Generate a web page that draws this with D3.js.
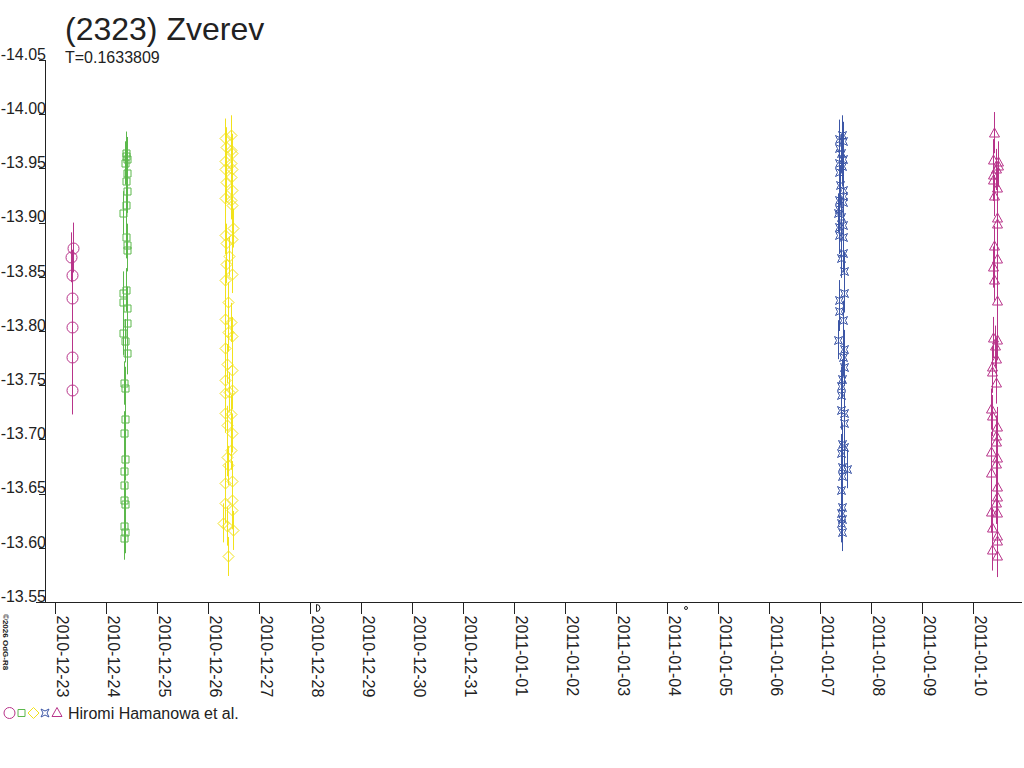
<!DOCTYPE html>
<html lang="en">
<head>
<meta charset="utf-8">
<title>(2323) Zverev</title>
<script src="https://cdn.jsdelivr.net/npm/d3@7"></script>
<style>
body { margin: 0; background: #fff; }
svg text { font-family: "Liberation Sans", Arial, sans-serif; fill: #222; }
.axis line, .axis path { stroke: #222; shape-rendering: crispEdges; }
</style>
</head>
<body>
<div id="chart"></div>
<script>
// session dates, day fractions (UT) and magnitudes
var sessionDates = ["2010-12-23", "2010-12-24", "2010-12-26", "2011-01-07", "2011-01-10"];
var sessionErr = [0.023, 0.020, 0.018, 0.018, 0.019];
var observers = "Hiromi Hamanowa et al.";
var period = "T=0.1633809";
var yTicks = [-14.05, -14.00, -13.95, -13.90, -13.85, -13.80, -13.75, -13.70, -13.65, -13.60, -13.55];

var frac1 = [0.367, 0.327, 0.347, 0.347, 0.347, 0.347, 0.347];
var mag1 = [-13.877, -13.868, -13.852, -13.830, -13.804, -13.776, -13.746];

var frac2 = [0.406, 0.406, 0.420, 0.388, 0.420, 0.400, 0.425, 0.400, 0.341, 0.400, 0.420, 0.420,
  0.400, 0.341, 0.341, 0.425, 0.425, 0.353, 0.392, 0.431, 0.361, 0.380, 0.380, 0.361, 0.380,
  0.361, 0.361, 0.361, 0.380, 0.373, 0.388, 0.373];
var mag2 = [-13.964, -13.961, -13.959, -13.955, -13.946, -13.938, -13.929, -13.916, -13.909, -13.887, -13.879, -13.875,
  -13.838, -13.835, -13.827, -13.821, -13.807, -13.798, -13.791, -13.780, -13.752, -13.747, -13.719, -13.706, -13.682,
  -13.671, -13.658, -13.644, -13.640, -13.620, -13.615, -13.609];

var frac3 = [0.465, 0.347, 0.367, 0.465, 0.490, 0.347, 0.465, 0.347, 0.490, 0.465, 0.367, 0.478, 0.347,
  0.465, 0.478, 0.498, 0.347, 0.478, 0.367, 0.431, 0.367, 0.490, 0.347, 0.400, 0.347, 0.459, 0.412,
  0.490, 0.347, 0.380, 0.490, 0.347, 0.490, 0.347, 0.431, 0.347, 0.459, 0.392, 0.490, 0.459, 0.380,
  0.412, 0.490, 0.347, 0.347, 0.490, 0.490, 0.314, 0.380, 0.510, 0.412];
var mag3 = [-13.981, -13.978, -13.970, -13.967, -13.964, -13.957, -13.955, -13.949, -13.949, -13.942, -13.937, -13.930, -13.923,
  -13.921, -13.916, -13.895, -13.889, -13.885, -13.881, -13.869, -13.862, -13.853, -13.847, -13.827, -13.811, -13.808, -13.799,
  -13.795, -13.784, -13.770, -13.764, -13.755, -13.746, -13.743, -13.744, -13.724, -13.723, -13.713, -13.706, -13.690, -13.684,
  -13.676, -13.662, -13.660, -13.641, -13.644, -13.635, -13.623, -13.620, -13.616, -13.592];

var frac4 = [0.451, 0.392, 0.471, 0.392, 0.420, 0.471, 0.392, 0.439, 0.392, 0.406, 0.471, 0.471, 0.380,
  0.471, 0.392, 0.373, 0.420, 0.471, 0.380, 0.392, 0.471, 0.471, 0.420, 0.490, 0.490, 0.380, 0.380,
  0.471, 0.373, 0.490, 0.471, 0.490, 0.451, 0.420, 0.420, 0.420, 0.490, 0.490, 0.451, 0.490, 0.420,
  0.451, 0.537, 0.451, 0.420, 0.451, 0.420, 0.451, 0.420, 0.451];
var mag4 = [-13.981, -13.977, -13.975, -13.969, -13.964, -13.959, -13.955, -13.952, -13.947, -13.935, -13.930, -13.925, -13.921,
  -13.919, -13.913, -13.909, -13.905, -13.898, -13.896, -13.889, -13.887, -13.872, -13.867, -13.855, -13.835, -13.829, -13.818,
  -13.810, -13.792, -13.783, -13.776, -13.767, -13.756, -13.749, -13.741, -13.727, -13.724, -13.715, -13.696, -13.693, -13.687,
  -13.675, -13.673, -13.666, -13.653, -13.638, -13.632, -13.627, -13.623, -13.615];

var frac5 = [0.431, 0.412, 0.498, 0.510, 0.465, 0.412, 0.412, 0.490, 0.431, 0.490, 0.490, 0.431, 0.490,
  0.412, 0.431, 0.490, 0.490, 0.412, 0.445, 0.459, 0.380, 0.380, 0.459, 0.367, 0.392, 0.490, 0.459,
  0.459, 0.367, 0.478, 0.459, 0.367, 0.478, 0.478, 0.459, 0.367, 0.478, 0.380, 0.478, 0.478, 0.380, 0.478];
var mag5 = [-13.983, -13.958, -13.956, -13.952, -13.949, -13.944, -13.939, -13.932, -13.925, -13.904, -13.899, -13.878, -13.866,
  -13.859, -13.847, -13.828, -13.792, -13.794, -13.786, -13.774, -13.767, -13.762, -13.752, -13.728, -13.722, -13.711, -13.703,
  -13.698, -13.688, -13.683, -13.677, -13.669, -13.656, -13.647, -13.641, -13.633, -13.632, -13.618, -13.611, -13.606, -13.598, -13.592];

// moon phases shown under the time axis
var moonTimes = ["2010-12-28T04:18:00Z", "2011-01-04T09:03:00Z"];
var moonPhases = ["lastQuarter", "new"];

var fracs = [frac1, frac2, frac3, frac4, frac5];
var mags = [mag1, mag2, mag3, mag4, mag5];

/* look of each session */
var colors = ["#b8348a", "#5cb84c", "#f2e21c", "#3c56a6", "#b8348a"];

var symCircle = { draw: function(c) { c.moveTo(5.5, 0); c.arc(0, 0, 5.5, 0, 2 * Math.PI); } };
var symSquare = { draw: function(c) { c.rect(-3.5, -3.5, 7, 7); } };
var symDiamond = { draw: function(c) { c.moveTo(0, -5.5); c.lineTo(5.5, 0); c.lineTo(0, 5.5); c.lineTo(-5.5, 0); c.closePath(); } };
var symHourglass = { draw: function(c) {
  c.moveTo(-4, -4); c.lineTo(0, -2); c.lineTo(4, -4); c.lineTo(2, 0);
  c.lineTo(4, 4); c.lineTo(0, 2); c.lineTo(-4, 4); c.lineTo(-2, 0); c.closePath(); } };
var symTriangle = { draw: function(c) { c.moveTo(0, -5.5); c.lineTo(5, 3.5); c.lineTo(-5, 3.5); c.closePath(); } };
var symbolTypes = [symCircle, symSquare, symDiamond, symHourglass, symTriangle];

var width = 1024, height = 768;
var plotLeft = 45, plotRight = 1022, plotTop = 60, plotBottom = 602;

var svg = d3.select('#chart').append('svg')
  .attr('width', width)
  .attr('height', height);

var xScale = d3.scaleUtc()
  .domain([new Date(Date.UTC(2010, 11, 23)), new Date(Date.UTC(2011, 0, 10))])
  .range([54.3, 972.3]);

var yScale = d3.scaleLinear()
  .domain([-14.05, -13.55])
  .range([plotTop, plotBottom]);

function toDate(day, f) {
  return new Date(Date.parse(day + 'T00:00:00Z') + f * 864e5);
}

/* build the point table */
var points = [];
sessionDates.forEach(function(day, i) {
  fracs[i].forEach(function(f, j) {
    points.push({ s: i, t: toDate(day, f), m: mags[i][j], e: sessionErr[i] });
  });
});

var plot = svg.append('g');

// error bars
plot.selectAll('line.err')
  .data(points)
  .enter()
  .append('line')
  .attr('class', 'err')
  .attr('x1', function(d) { return Math.round(xScale(d.t)) + 0.5; })
  .attr('x2', function(d) { return Math.round(xScale(d.t)) + 0.5; })
  .attr('y1', function(d) { return yScale(d.m - d.e); })
  .attr('y2', function(d) { return yScale(d.m + d.e); })
  .style('stroke', function(d) { return colors[d.s]; })
  .style('stroke-width', 1);

// symbols
plot.selectAll('path.pt')
  .data(points)
  .enter()
  .append('path')
  .attr('class', 'pt')
  .attr('d', function(d) { return d3.symbol().type(symbolTypes[d.s])(); })
  .attr('transform', function(d) { return 'translate(' + (Math.round(xScale(d.t)) + 0.5) + ',' + (Math.round(yScale(d.m)) + 0.5) + ')'; })
  .style('fill', 'none')
  .style('stroke', function(d) { return colors[d.s]; })
  .style('stroke-width', 1);

// y axis (plain hyphen for the minus sign, as in the original)
var yAxis = svg.append('g')
  .attr('class', 'axis')
  .attr('transform', 'translate(' + (plotLeft + 0.5) + ',0)')
  .call(d3.axisLeft(yScale).tickValues(yTicks).tickSize(7).tickSizeOuter(0)
    .tickFormat(function(d) { return d.toFixed(2); }));
yAxis.selectAll('text')
  .attr('x', 0.5)
  .attr('dy', '-0.05em')
  .style('font-size', '16px')
  .style('fill', '#222');
yAxis.select('.domain').attr('d', 'M0,' + plotTop + 'V' + plotBottom);

// x axis
var xAxis = svg.append('g')
  .attr('class', 'axis')
  .attr('transform', 'translate(0,' + (plotBottom + 0.5) + ')')
  .call(d3.axisBottom(xScale).ticks(d3.utcDay.every(1)).tickSize(11).tickFormat(d3.utcFormat('%Y-%m-%d')));
xAxis.select('.domain').attr('d', 'M36,0H' + plotRight);
xAxis.selectAll('.tick line').attr('transform', 'translate(0.5,0)');
xAxis.selectAll('text')
  .attr('y', 0)
  .attr('dy', 0)
  .attr('transform', 'translate(2,13) rotate(90)')
  .style('text-anchor', 'start')
  .style('font-size', '16px')
  .style('fill', '#222');

// moon phase marks
svg.selectAll('path.moon')
  .data(moonTimes)
  .enter()
  .append('path')
  .attr('class', 'moon')
  .attr('transform', function(d) { return 'translate(' + Math.round(xScale(new Date(d))) + ',608)'; })
  .attr('d', function(d, i) {
    return moonPhases[i] === 'new'
      ? 'M1.5,0A1.5,1.5 0 1,1 -1.5,0A1.5,1.5 0 1,1 1.5,0Z'
      : 'M-1.5,-3.5V3.5A3.5,3.5 0 0,0 -1.5,-3.5Z';
  })
  .style('fill', 'none')
  .style('stroke', '#222')
  .style('stroke-width', 1);

// title
svg.append('text')
  .attr('x', 65)
  .attr('y', 40)
  .style('font-size', '32px')
  .text('(2323) Zverev');

svg.append('text')
  .attr('x', 65)
  .attr('y', 63)
  .style('font-size', '16px')
  .text(period);

// legend
var legend = svg.append('g').attr('transform', 'translate(0,713)');
var legendX = [9.5, 21.5, 33.5, 45, 57];
legend.selectAll('path')
  .data(symbolTypes)
  .enter()
  .append('path')
  .attr('d', function(d) { return d3.symbol().type(d)(); })
  .attr('transform', function(d, i) { return 'translate(' + legendX[i] + ',0)'; })
  .style('fill', 'none')
  .style('stroke', function(d, i) { return colors[i]; });
legend.append('text')
  .attr('x', 68)
  .attr('y', 6)
  .style('font-size', '16px')
  .text(observers);

// copyright
svg.append('text')
  .attr('transform', 'translate(3,614) rotate(90)')
  .style('font-size', '8px')
  .style('font-weight', 'bold')
  .text('\u00a92026 OdG-R8');
</script>
</body>
</html>
